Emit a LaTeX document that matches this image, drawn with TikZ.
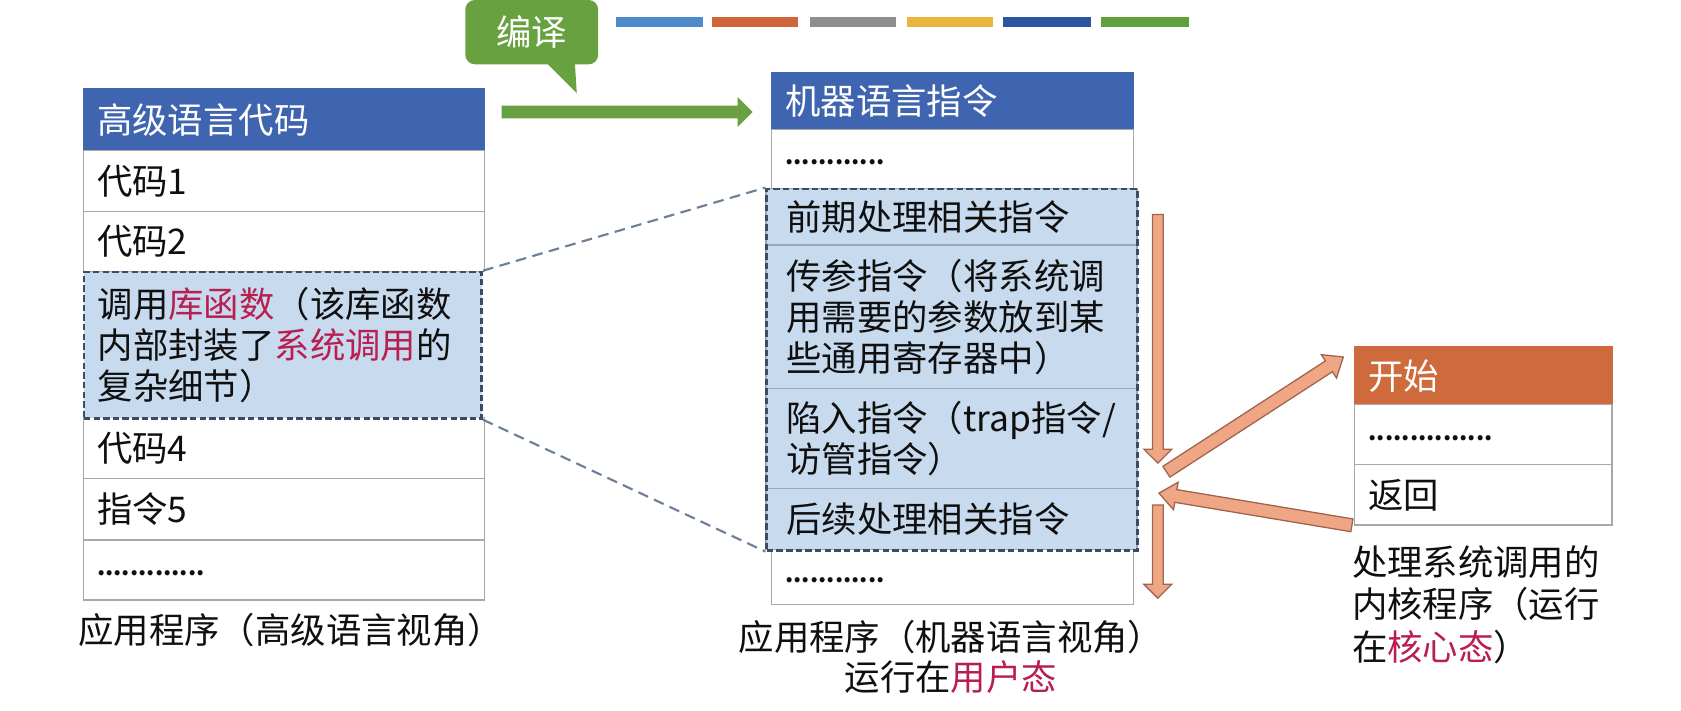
\documentclass[tikz,border=0pt]{standalone}
\usepackage{fontspec}
\setmainfont{Noto Sans CJK SC}
\usetikzlibrary{calc}
\definecolor{hblue}{RGB}{64,101,176}
\definecolor{horange}{RGB}{206,106,60}
\definecolor{cellline}{RGB}{168,168,168}
\definecolor{hlfill}{RGB}{200,218,237}
\definecolor{hldash}{RGB}{60,76,98}
\definecolor{hlsep}{RGB}{150,168,190}
\definecolor{conn}{RGB}{110,128,152}
\definecolor{keyred}{RGB}{185,30,80}
\definecolor{cgreen}{RGB}{104,162,64}
\definecolor{arrfill}{RGB}{238,166,132}
\definecolor{arrline}{RGB}{160,100,80}
\definecolor{txt}{RGB}{15,15,15}
\definecolor{barA}{RGB}{78,138,203}
\definecolor{barB}{RGB}{208,100,58}
\definecolor{barC}{RGB}{142,142,142}
\definecolor{barD}{RGB}{235,180,60}
\definecolor{barE}{RGB}{46,85,159}
\definecolor{barF}{RGB}{95,160,58}
\newcommand\kr[1]{\textcolor{keyred}{#1}}
\newcommand\dotsrow[1]{\raisebox{-11pt}{\fontsize{22}{26}\selectfont\bfseries #1}}
% block arrow: [style]{from}{to}{half shaft}{half head}{head length}
\newcommand\blockarr[6][orangearrow]{%
  \coordinate (ba-h) at ($(#3)!#6!(#2)$);
  \coordinate (ba-t) at (#2);
  \filldraw[#1] ($(ba-t)!#4!90:(ba-h)$) -- ($(ba-h)!#4!-90:(ba-t)$) -- ($(ba-h)!#5!-90:(ba-t)$) -- (#3) -- ($(ba-h)!#5!90:(ba-t)$) -- ($(ba-h)!#4!90:(ba-t)$) -- ($(ba-t)!#4!-90:(ba-h)$) -- cycle;}
\tikzset{
  txtfont/.style={font=\fontsize{33}{38.5}\selectfont, text=txt},
  cellbox/.style={txtfont, draw=cellline, line width=1.2pt, fill=white, anchor=north west,
    inner xsep=13pt, inner ysep=0pt, align=left},
  headbox/.style={cellbox, fill=hblue, draw=hblue, text=white},
  hlrow/.style={cellbox, fill=hlfill, draw=hlsep, inner xsep=19pt},
  hlframe/.style={draw=hldash, line width=2.5pt, dash pattern=on 6pt off 3pt, fill=none,
    anchor=north west, inner sep=0pt},
  hlleft/.style={cellbox, fill=hlfill, draw=hldash, line width=2.5pt, dash pattern=on 6pt off 3pt},
  connline/.style={draw=conn, line width=2pt, dash pattern=on 10pt off 6pt},
  orangearrow/.style={fill=arrfill, draw=arrline, line width=1.2pt, line join=miter},
  greenarrow/.style={fill=cgreen, draw=none},
  caption/.style={txtfont, inner sep=0pt}
}
\begin{document}
\begin{tikzpicture}[x=1pt, y=-1pt]
\useasboundingbox (0,0) rectangle (1568,663);
% colour bars
\fill[barA] (575,16) rectangle (656,25);
\fill[barB] (664,16) rectangle (744,25);
\fill[barC] (756,16) rectangle (836,25);
\fill[barD] (846,16) rectangle (926,25);
\fill[barE] (936,16) rectangle (1018,25);
\fill[barF] (1027,16) rectangle (1109,25);
% callout
\node[fill=cgreen, rounded corners=9pt, minimum width=124pt, minimum height=60pt, inner sep=0pt,
  font=\fontsize{33}{38}\selectfont, text=white] (callout) at (496,30) {编译};
\fill[cgreen] (506,55) -- (538,87) -- (536,55) -- cycle;
% left table
\node[headbox, minimum width=374pt, minimum height=58pt, text width=348pt] (lh) at (77,82) {高级语言代码};
\node[cellbox, minimum width=374pt, minimum height=56.5pt, text width=348pt] (l1) at (77,140) {代码1};
\node[cellbox, minimum width=374pt, minimum height=56pt, text width=348pt] (l2) at (77,196.5) {代码2};
\node[cellbox, minimum width=374pt, minimum height=56.5pt, text width=348pt] (l4) at (77,389) {代码4};
\node[cellbox, minimum width=374pt, minimum height=57.5pt, text width=348pt] (l5) at (77,445.5) {指令5};
\node[cellbox, minimum width=374pt, minimum height=56pt, text width=348pt] (l6) at (77,503) {\dotsrow{.............}};
\node[hlleft, minimum width=371pt, minimum height=136.5pt, text width=345pt] (l3) at (77,252.5)
  {调用\kr{库函数}（该库函数\\内部封装了\kr{系统调用}的\\复杂细节）};
\node[caption, anchor=west] (lcap) at (73,588) {应用程序（高级语言视角）};
% middle table
\node[headbox, minimum width=338pt, minimum height=53pt, text width=312pt] (mh) at (719,67) {机器语言指令};
\node[cellbox, minimum width=338pt, minimum height=55pt, text width=312pt] (m1) at (719,120) {\dotsrow{............}};
\node[cellbox, minimum width=338pt, minimum height=51pt, text width=312pt] (m6) at (719,512) {\dotsrow{............}};
\node[hlrow, minimum width=346pt, minimum height=53pt, text width=308pt] (m2) at (714,175) {前期处理相关指令};
\node[hlrow, minimum width=346pt, minimum height=134pt, text width=308pt] (m3) at (714,228)
  {传参指令（将系统调\\用需要的参数放到某\\些通用寄存器中）};
\node[hlrow, minimum width=346pt, minimum height=93pt, text width=308pt] (m4) at (714,362)
  {陷入指令（trap指令/\\访管指令）};
\node[hlrow, minimum width=346pt, minimum height=57pt, text width=308pt] (m5) at (714,455) {后续处理相关指令};
\node[hlframe, minimum width=346pt, minimum height=337pt] (mhl) at (714,175) {};
\node[caption, align=center, font=\fontsize{33}{37}\selectfont] (mcap) at (887,613)
  {应用程序（机器语言视角）\\运行在\kr{用户态}};
% right table
\node[headbox, fill=horange, draw=horange, minimum width=240pt, minimum height=54pt, text width=214pt] (rh) at (1263,323) {开始};
\node[cellbox, minimum width=240pt, minimum height=56pt, text width=214pt] (r1) at (1263,377) {\dotsrow{...............}};
\node[cellbox, minimum width=240pt, minimum height=56pt, text width=214pt] (r2) at (1263,433) {返回};
\node[caption, anchor=west, align=left, font=\fontsize{33}{40}\selectfont] (rcap) at (1261,564)
  {处理系统调用的\\内核程序（运行\\在\kr{核心态}）};
% dashed connectors
\draw[connline] (l3.north east) -- (mhl.north west);
\draw[connline] (l3.south east) -- (mhl.south west);
% green compile arrow
\coordinate (ga-s) at (468,104.5);
\coordinate (ga-e) at (702,104.5);
\blockarr[greenarrow]{ga-s}{ga-e}{6pt}{14pt}{14pt}
% orange arrows
\coordinate (d1s) at (1080,200);
\coordinate (d1e) at (1080,432);
\coordinate (d2s) at (1080,471);
\coordinate (d2e) at (1080,558);
\coordinate (ups) at (1088,440);
\coordinate (upe) at (1253,333);
\coordinate (bks) at (1261,490);
\coordinate (bke) at (1081,460);
\blockarr{d1s}{d1e}{5pt}{13pt}{13pt}
\blockarr{d2s}{d2e}{5pt}{13pt}{13pt}
\blockarr{ups}{upe}{6pt}{13pt}{16pt}
\blockarr{bks}{bke}{6pt}{13pt}{16pt}
\end{tikzpicture}
\end{document}
